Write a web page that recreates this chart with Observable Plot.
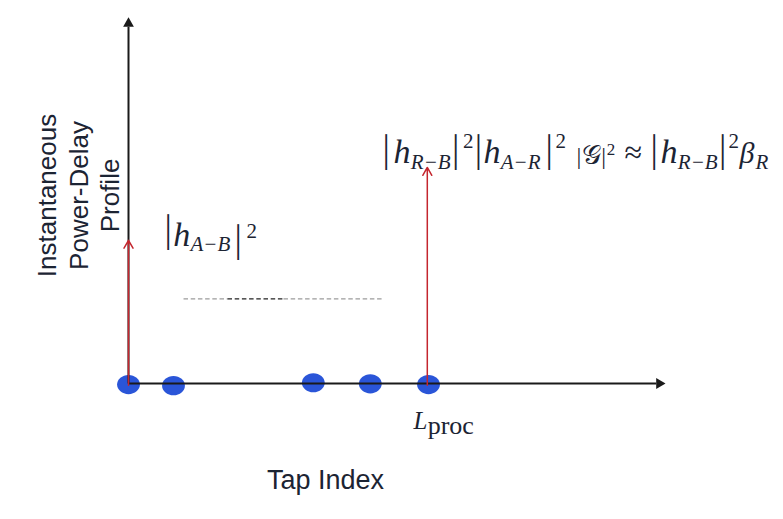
<!DOCTYPE html>
<html>
<head>
<meta charset="utf-8">
<script src="https://cdn.jsdelivr.net/npm/d3@7"></script>
<script src="https://cdn.jsdelivr.net/npm/@observablehq/plot@0.6"></script>
<style>
  html, body { margin: 0; padding: 0; background: #ffffff; }
  #chart svg { display: block; overflow: visible; }
</style>
</head>
<body>
<div id="chart"></div>
<script>
// ---------------- data ----------------
const tapIndex   = [0, 0.75, 3.08, 4.03, 5.0];          // blue taps along the axis
const tapLevel   = [-0.003, -0.006, 0.002, -0.001, -0.003];
const stemTap    = [0, 4.98];                             // red impulses
const stemPower  = [0.389, 0.587];
const dashStart  = [0.917, 1.65, 2.583];                  // dashed threshold line pieces
const dashEnd    = [1.65, 2.583, 4.25];
const dashTone   = ["light", "dark", "light"];
const dashLevel  = 0.230;
const xAxisMax   = 8.95;   // arrow tip of the tap axis
const yAxisMax   = 0.995;  // arrow tip of the power axis
const yTitle     = "Instantaneous\nPower-Delay\nProfile";
const xTitle     = "Tap Index";
const mathLabels = ["|hA−B|2", "|hR−B|2|hA−R|2|𝒢|2 ≈ |hR−B|2βR", "Lproc"];
const mathLabelX = [0.583, 4.2167, 4.75];
const mathLabelY = [0.3723, 0.6005, -0.1223];

// ---------------- helpers ----------------
const taps  = tapIndex.map((x, i) => ({x, y: tapLevel[i]}));
const stems = stemTap.map((x, i) => ({x, y: stemPower[i]}));
const dashes = dashStart.map((x1, i) => ({x1, x2: dashEnd[i], y: dashLevel, tone: dashTone[i]}));
const labels = mathLabels.map((t, i) => ({t, x: mathLabelX[i], y: mathLabelY[i]}));

const ellipse = {
  draw(ctx, size) {
    const r = Math.sqrt(size / Math.PI), rx = r * 1.19, ry = r, k = 0.5523;
    ctx.moveTo(rx, 0);
    ctx.bezierCurveTo(rx, ry * k, rx * k, ry, 0, ry);
    ctx.bezierCurveTo(-rx * k, ry, -rx, ry * k, -rx, 0);
    ctx.bezierCurveTo(-rx, -ry * k, -rx * k, -ry, 0, -ry);
    ctx.bezierCurveTo(rx * k, -ry, rx, -ry * k, rx, 0);
    ctx.closePath();
  }
};

const W = 783, H = 519;
const xRange = [128, 668], yRange = [383, 15];
const pxX = (xRange[1] - xRange[0]) / 9, pxY = (yRange[0] - yRange[1]) / 1;
const headR = 4, tipOff = 6.2;

const ink = "#1c2433";
const axisColor = "#1a1a1a";
const red = "#c4262e";
const blue = "#2a55d8";

const svg = Plot.plot({
  width: W,
  height: H,
  margin: 0,
  style: {background: "#ffffff", overflow: "visible"},
  x: {domain: [0, 9], range: xRange, axis: null},
  y: {domain: [0, 1], range: yRange, axis: null},
  marks: [
    // blue taps
    Plot.dot(taps, {x: "x", y: "y", r: 9.6, symbol: ellipse, fill: blue, stroke: "none"}),
    // dashed threshold
    Plot.link(dashes, {
      x1: "x1", x2: "x2", y1: "y", y2: "y",
      stroke: d => d.tone === "dark" ? "#222222" : "#9c9c9c",
      strokeWidth: 1.2, strokeDasharray: "4.5,2.7"
    }),
    // axes
    Plot.link([{}], {x1: () => 0, y1: () => 0, x2: () => xAxisMax - (tipOff + 3.1) / pxX, y2: () => 0,
      stroke: axisColor, strokeWidth: 2}),
    Plot.link([{}], {x1: () => 0, y1: () => 0, x2: () => 0, y2: () => yAxisMax - (tipOff + 3.1) / pxY,
      stroke: axisColor, strokeWidth: 2}),
    Plot.dot([{}], {x: () => xAxisMax - tipOff / pxX, y: () => 0, symbol: "triangle", r: headR, rotate: 90, fill: axisColor, stroke: "none"}),
    Plot.dot([{}], {x: () => 0, y: () => yAxisMax - tipOff / pxY, symbol: "triangle", r: headR, rotate: 0, fill: axisColor, stroke: "none"}),
    // red impulses
    Plot.arrow(stems, {x1: "x", y1: () => -0.005, x2: "x", y2: "y", stroke: red, strokeWidth: 1.5, headLength: 9, bend: 0}),
    // axis titles
    Plot.text([yTitle], {x: () => -0.85, y: () => 0.5109, text: d => d, rotate: -90, fontSize: 26,
      lineHeight: 1.2115, fontFamily: "Liberation Sans, Arial, sans-serif", fill: ink, textAnchor: "middle"}),
    Plot.text([xTitle], {x: () => (325 - xRange[0]) / pxX, y: () => (yRange[0] - 488) / pxY, text: d => d,
      fontSize: 27, fontFamily: "Liberation Sans, Arial, sans-serif", fill: ink, textAnchor: "middle", lineAnchor: "bottom"}),
    // math labels (plain text, typeset below)
    Plot.text(labels, {x: "x", y: "y", text: "t", textAnchor: "start", lineAnchor: "bottom", fill: ink,
      fontFamily: "Liberation Serif, serif", fontSize: 30})
  ]
});

document.getElementById("chart").appendChild(svg);

// --------- typesetting of the math labels with tspans ---------
const F = {
  bar:  {family: "Inter, Liberation Serif, serif", size: 30, style: "normal", weight: 300},
  it:   {family: "Liberation Serif, serif", size: 34, style: "italic"},
  sub:  {family: "Liberation Serif, serif", size: 21, style: "italic"},
  sup:  {family: "Liberation Serif, serif", size: 21, style: "normal"},
  sbar: {family: "Liberation Serif, serif", size: 24, style: "normal"},
  cal:  {family: "DejaVu Serif, DejaVu Sans, Liberation Serif, serif", size: 27, style: "normal"},
  sup2: {family: "Liberation Serif, serif", size: 17, style: "normal"},
  op:   {family: "Liberation Serif, serif", size: 32, style: "normal"},
  beta: {family: "Liberation Serif, serif", size: 30, style: "italic"},
  L:    {family: "Liberation Serif, serif", size: 25, style: "italic"},
  rm:   {family: "Liberation Serif, serif", size: 26, style: "normal"}
};
// [text, font, x (number = target offset from anchor; "+g" = right after previous piece with gap g), baseline shift]
const layout = {
  "|hA−B|2": [
    ["|", "bar", 0, -3], ["h", "it", 9, 0], ["A−B", "sub", 26, 5], ["|", "bar", 70, 7], ["2", "sup", 83, -8]
  ],
  "|hR−B|2|hA−R|2|𝒢|2 ≈ |hR−B|2βR": [
    ["|", "bar", 0, 0], ["h", "it", 12, 0], ["R−B", "sub", 29, 6], ["|", "bar", 69, 0], ["2", "sup", 81.5, -15],
    ["|", "bar", 89, 0], ["h", "it", 99, 0], ["A−R", "sub", 116, 6], ["|", "bar", 163, 0], ["2", "sup", 174, -15],
    ["|", "sbar", 195, 1], ["𝒢", "cal", "+0.5", 1], ["|", "sbar", "+0.5", 1], ["2", "sup2", "+0.5", -8],
    ["≈", "op", 243, 0],
    ["|", "bar", 268, 0], ["h", "it", 279, 0], ["R−B", "sub", 296, 6], ["|", "bar", 335, 0], ["2", "sup", 347, -15],
    ["β", "beta", 358, 0], ["R", "sub", 374, 6]
  ],
  "Lproc": [
    ["L", "L", 0, 0], ["proc", "rm", 14, 5]
  ]
};
const NS = "http://www.w3.org/2000/svg";
svg.querySelectorAll("text").forEach(t => {
  const spec = layout[t.textContent];
  if (!spec) return;
  const bx = parseFloat(t.getAttribute("x")) || 0;
  const by = parseFloat(t.getAttribute("y")) || 0;
  t.textContent = "";
  let prevEnd = -Infinity;
  for (const [s, f, dx, dy] of spec) {
    const ts = document.createElementNS(NS, "tspan");
    const x = typeof dx === "string" ? prevEnd + parseFloat(dx) : Math.max(dx, prevEnd + 0.3);
    ts.setAttribute("x", bx + x);
    ts.setAttribute("y", by + dy);
    ts.setAttribute("font-family", F[f].family);
    ts.setAttribute("font-size", F[f].size);
    ts.setAttribute("font-style", F[f].style);
    if (F[f].weight) ts.setAttribute("font-weight", F[f].weight);
    ts.textContent = s;
    t.appendChild(ts);
    prevEnd = x + ts.getComputedTextLength();
  }
});
</script>
</body>
</html>
